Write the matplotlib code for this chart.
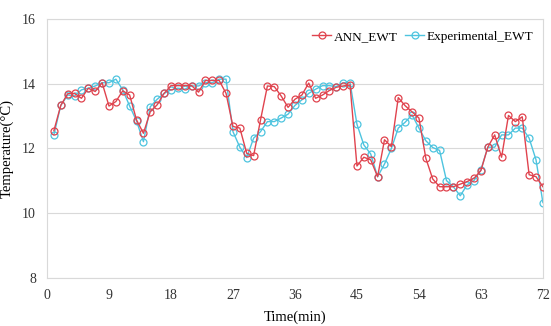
import matplotlib
matplotlib.use("Agg")
import matplotlib.pyplot as plt
import numpy as np

plt.rcParams['font.family'] = ['Liberation Serif', 'DejaVu Serif']

# time in minutes
time_min = np.arange(1, 73)

ann_ewt = [12.55, 13.33, 13.69, 13.70, 13.55, 13.86, 13.76, 14.03, 13.31, 13.45,
           13.78, 13.65, 12.88, 12.47, 13.14, 13.35, 13.70, 13.94, 13.94, 13.94,
           13.94, 13.74, 14.10, 14.10, 14.10, 13.70, 12.68, 12.63, 11.85, 11.78,
           12.88, 13.93, 13.91, 13.62, 13.27, 13.52, 13.65, 14.02, 13.55, 13.65,
           13.79, 13.89, 13.93, 13.96, 11.46, 11.73, 11.65, 11.13, 12.27, 12.06,
           13.57, 13.32, 13.13, 12.94, 11.70, 11.06, 10.82, 10.82, 10.82, 10.90,
           10.98, 11.08, 11.32, 12.04, 12.42, 11.73, 13.02, 12.83, 12.98, 11.19,
           11.13, 10.82]

exp_ewt = [12.42, 13.33, 13.65, 13.62, 13.81, 13.86, 13.93, 14.03, 14.03, 14.14,
           13.81, 13.31, 12.85, 12.21, 13.29, 13.52, 13.70, 13.81, 13.86, 13.83,
           13.93, 13.93, 14.03, 14.03, 14.14, 14.14, 12.52, 12.04, 11.72, 12.32,
           12.52, 12.83, 12.83, 12.94, 13.06, 13.33, 13.50, 13.70, 13.83, 13.94,
           13.94, 13.91, 14.03, 14.03, 12.75, 12.11, 11.83, 11.13, 11.52, 12.00,
           12.63, 12.81, 13.04, 12.63, 12.24, 12.03, 11.94, 11.01, 10.82, 10.54,
           10.88, 11.01, 11.34, 12.04, 12.04, 12.42, 12.42, 12.63, 12.63, 12.32,
           11.65, 10.33]

x_ticks = [0, 9, 18, 27, 36, 45, 54, 63, 72]
y_ticks = [8, 10, 12, 14, 16]

fig = plt.figure(figsize=(5.51, 3.26), dpi=100, facecolor='white')
ax = fig.add_axes([0.0853, 0.147, 0.9, 0.795])

ax.plot(time_min, ann_ewt, color='#e0434e', lw=1.0, marker='o', ms=5,
        mfc='none', mew=0.9, label='ANN_EWT', zorder=3)
ax.plot(time_min, exp_ewt, color='#4ec4df', lw=1.0, marker='o', ms=5,
        mfc='none', mew=0.9, label='Experimental_EWT', zorder=2)

ax.set_xlim(0, 72)
ax.set_ylim(8, 16)
ax.set_xticks(x_ticks)
ax.set_yticks(y_ticks)
ax.yaxis.grid(True, color='#d9d9d9', lw=0.8)
ax.set_axisbelow(True)
for s in ax.spines.values():
    s.set_color('#d9d9d9')
    s.set_linewidth(0.8)
ax.tick_params(length=0, labelsize=10, colors='#333333')
ax.tick_params(axis='x', pad=8)
ax.tick_params(axis='y', pad=8)

ax.set_xlabel('Time(min)', fontsize=10.5, labelpad=6)
ax.set_ylabel('Temperature(\u00b0C)', fontsize=10.5, labelpad=6)

ax.legend(loc='upper right', ncol=2, frameon=False, fontsize=9.5,
          handlelength=1.5, columnspacing=0.5, handletextpad=0.2,
          bbox_to_anchor=(1.0, 0.99), borderaxespad=0.3)

fig.savefig('out.png', dpi=100)
